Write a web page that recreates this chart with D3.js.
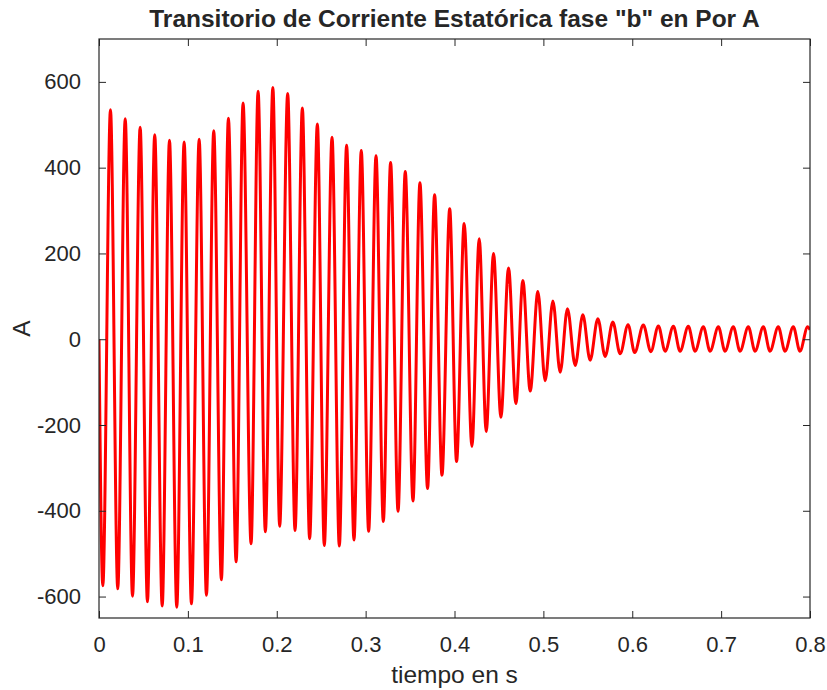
<!DOCTYPE html>
<head>
  <meta charset="UTF-8">
  <title>Transitorio de Corriente</title>
  <style>
    body { margin: 0; background: #fff; }
    text { font-family: "Liberation Sans", Arial, sans-serif; fill: #262626; }
  </style>
</head>
<body>
    <script src="https://d3js.org/d3.v7.min.js" charset="utf-8"></script>
    <script>
        // tiempos (s) y valores (A) de los minimos de cada ciclo
        let valleyTimes = [0.0043, 0.0211, 0.0377, 0.0545, 0.0711, 0.0875, 0.1040, 0.1209, 0.1377, 0.1543,
                           0.1711, 0.1872, 0.2033, 0.2206, 0.2370, 0.2535, 0.2704, 0.2869, 0.3034, 0.3199,
                           0.3365, 0.3533, 0.3697, 0.3859, 0.4023, 0.4196, 0.4357, 0.4522, 0.4691, 0.4852,
                           0.5020, 0.5189, 0.5358, 0.5526, 0.5695, 0.5864, 0.6027, 0.6209, 0.6370, 0.6538,
                           0.6707, 0.6876, 0.7044, 0.7213, 0.7382, 0.7550, 0.7719, 0.7887];
        let valleyValues = [-575, -582, -599, -612, -622, -625, -617, -597, -561, -519,
                            -477, -449, -436, -446, -465, -481, -482, -468, -448, -425,
                            -401, -377, -348, -317, -285, -250, -215, -182, -150, -121,
                            -97, -77, -61, -49, -40, -34, -31, -29, -28, -28,
                            -28, -28, -28, -28, -28, -28, -28, -28];
        // tiempos (s) y valores (A) de los maximos de cada ciclo
        let peakTimes = [0.0129, 0.0295, 0.0463, 0.0627, 0.0793, 0.0958, 0.1127, 0.1291, 0.1456, 0.1621,
                         0.1790, 0.1956, 0.2123, 0.2288, 0.2457, 0.2622, 0.2786, 0.2951, 0.3117, 0.3281,
                         0.3446, 0.3611, 0.3776, 0.3946, 0.4109, 0.4278, 0.4439, 0.4608, 0.4769, 0.4938,
                         0.5107, 0.5271, 0.5444, 0.5613, 0.5781, 0.5953, 0.6125, 0.6294, 0.6463, 0.6631,
                         0.6800, 0.6969, 0.7137, 0.7306, 0.7475, 0.7643, 0.7812, 0.7974];
        let peakValues = [535, 514, 494, 477, 464, 460, 466, 486, 515, 551,
                          578, 587, 573, 539, 502, 471, 452, 440, 428, 412,
                          391, 365, 337, 304, 270, 234, 200, 166, 137, 111,
                          89, 71, 57, 48, 40, 34, 33, 31, 30, 30,
                          29, 29, 29, 29, 29, 29, 29, 29];
        // puntos inicial y final de la senal
        let startPoint = [0, 0];
        let endPoint = [0.8, 22];

        let xTicks = [0, 0.1, 0.2, 0.3, 0.4, 0.5, 0.6, 0.7, 0.8];
        let yTicks = [-600, -400, -200, 0, 200, 400, 600];

        let width = 827;
        let height = 690;
        let margin = { top: 39, right: 17, bottom: 72, left: 99 };
        let tickLen = 7;

        // armar la lista de puntos ordenada en el tiempo
        let points = [startPoint];
        valleyTimes.forEach(function (t, i) {
          points.push([t, valleyValues[i]]);
          points.push([peakTimes[i], peakValues[i]]);
        });
        points.push(endPoint);
        points.sort(function (a, b) { return a[0] - b[0]; });

        let svg = d3.select('body')
          .append('svg')
          .attr('width', width)
          .attr('height', height);

        let x = d3.scaleLinear().domain([0, 0.8]).range([margin.left, width - margin.right]);
        let y = d3.scaleLinear().domain([-650, 700]).range([height - margin.bottom, margin.top]);

        svg.append('clipPath').attr('id', 'clip')
          .append('rect')
          .attr('x', margin.left).attr('y', margin.top)
          .attr('width', width - margin.left - margin.right)
          .attr('height', height - margin.top - margin.bottom);

        // curva de corriente
        let line = d3.line()
          .x(function (d) { return x(d[0]); })
          .y(function (d) { return y(d[1]); })
          .curve(d3.curveMonotoneX);

        svg.append('path')
          .datum(points)
          .attr('clip-path', 'url(#clip)')
          .attr('fill', 'none')
          .attr('stroke', '#ff0000')
          .attr('stroke-width', 3)
          .attr('stroke-linejoin', 'round')
          .attr('d', line);

        // ejes con marcas hacia adentro (abajo, izquierda) y espejo (arriba, derecha)
        let fmtX = function (d) { return d === 0 ? '0' : d3.format('.1f')(d); };
        // guion simple como en el original, no el signo menos unicode
        let fmtY = function (d) { return String(d); };
        let axisStyle = function (g) {
          g.select('.domain').remove();
          g.selectAll('.tick line').attr('stroke', '#262626');
          g.selectAll('.tick text').attr('fill', '#262626').style('font-size', '22px')
            .style('font-family', '"Liberation Sans", Arial, sans-serif');
        };

        svg.append('g')
          .attr('transform', 'translate(0,' + (height - margin.bottom) + ')')
          .call(d3.axisBottom(x).tickValues(xTicks).tickFormat(fmtX).tickSizeInner(-tickLen).tickSizeOuter(0).tickPadding(18))
          .call(axisStyle);
        svg.append('g')
          .attr('transform', 'translate(0,' + margin.top + ')')
          .call(d3.axisTop(x).tickValues(xTicks).tickFormat('').tickSizeInner(-tickLen).tickSizeOuter(0))
          .call(axisStyle);
        svg.append('g')
          .attr('transform', 'translate(' + margin.left + ',0)')
          .call(d3.axisLeft(y).tickValues(yTicks).tickFormat(fmtY).tickSizeInner(-tickLen).tickSizeOuter(0).tickPadding(18))
          .call(axisStyle);
        svg.append('g')
          .attr('transform', 'translate(' + (width - margin.right) + ',0)')
          .call(d3.axisRight(y).tickValues(yTicks).tickFormat('').tickSizeInner(-tickLen).tickSizeOuter(0))
          .call(axisStyle);

        // caja de los ejes
        svg.append('rect')
          .attr('x', margin.left).attr('y', margin.top)
          .attr('width', width - margin.left - margin.right)
          .attr('height', height - margin.top - margin.bottom)
          .attr('fill', 'none')
          .attr('stroke', '#262626')
          .attr('stroke-width', 1.2);

        // titulo y etiquetas
        svg.append('text')
          .attr('x', (margin.left + width - margin.right) / 2)
          .attr('y', 27)
          .attr('text-anchor', 'middle')
          .style('font-size', '24.5px')
          .style('font-weight', 'bold')
          .text('Transitorio de Corriente Estatórica fase "b" en Por A');

        svg.append('text')
          .attr('x', (margin.left + width - margin.right) / 2)
          .attr('y', 683)
          .attr('text-anchor', 'middle')
          .style('font-size', '24.5px')
          .text('tiempo en s');

        svg.append('text')
          .attr('transform', 'translate(30,' + ((margin.top + height - margin.bottom) / 2) + ') rotate(-90)')
          .attr('text-anchor', 'middle')
          .style('font-size', '24.5px')
          .text('A');
    </script>
</body>
</html>
